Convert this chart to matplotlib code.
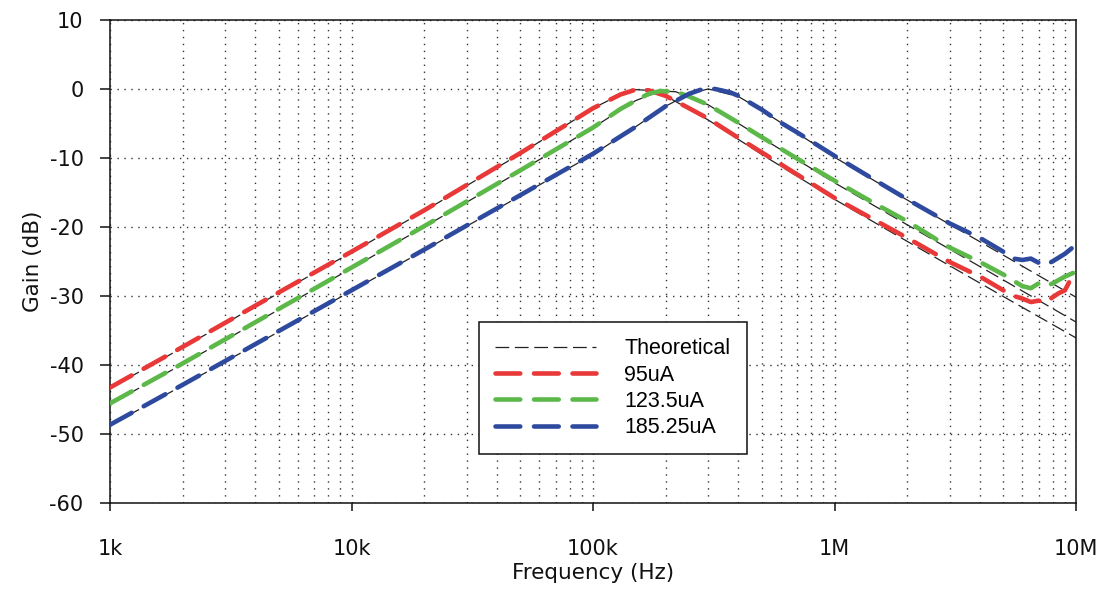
import matplotlib
matplotlib.use("Agg")
import matplotlib.pyplot as plt
from matplotlib.ticker import FixedLocator, NullFormatter

plt.rcParams["axes.unicode_minus"] = False

# ---- data (frequency in Hz, gain in dB) ----
theory_freq_95 = [1e3, 2e3, 5e3, 1e4, 2e4, 5e4, 1e5, 1.3e5, 1.5e5, 1.7e5, 2e5,
                  3e5, 5e5, 1e6, 2e6, 5e6, 1e7]
theory_95 = [-43.4, -37.5, -29.6, -23.7, -17.7, -9.4, -2.8, -0.8, -0.1, -0.2,
             -1.0, -4.5, -9.5, -16.0, -22.1, -30.1, -36.1]
theory_freq_123 = [1e3, 2e3, 5e3, 1e4, 2e4, 5e4, 1e5, 1.5e5, 1.9e5, 2.2e5, 3e5,
                   5e5, 1e6, 2e6, 5e6, 1e7]
theory_123 = [-45.7, -39.9, -32.0, -26.0, -20.0, -11.9, -5.6, -1.7, -0.3, -0.4,
              -2.3, -7.1, -13.6, -19.7, -27.7, -33.8]
theory_freq_185 = [1e3, 2e3, 5e3, 1e4, 2e4, 5e4, 1e5, 1.5e5, 2e5, 2.5e5, 3e5,
                   4e5, 5e5, 1e6, 2e6, 5e6, 1e7]
theory_185 = [-48.8, -43.0, -35.2, -29.3, -23.4, -15.5, -9.5, -5.5, -2.5, -0.7,
              0.0, -1.1, -3.1, -9.9, -16.1, -24.1, -30.2]

freq_95 = [1e3, 2e3, 5e3, 1e4, 2e4, 5e4, 1e5, 1.3e5, 1.5e5, 1.7e5, 2e5, 2.5e5,
           3e5, 4e5, 5e5, 7e5, 1e6, 1.5e6, 2e6, 3e6, 4e6, 5e6, 5.5e6, 6e6,
           6.5e6, 7e6, 7.5e6, 8e6, 8.5e6, 9e6, 9.5e6, 1e7]
gain_95 = [-43.3, -37.4, -29.5, -23.6, -17.6, -9.3, -2.8, -0.8, -0.1, -0.2,
           -1.0, -2.8, -4.3, -7.1, -9.2, -12.4, -15.8, -19.2, -21.6, -25.1,
           -27.2, -29.2, -30.0, -30.4, -30.9, -30.7, -31.0, -30.2, -29.6,
           -29.2, -27.6, -27.0]

freq_123 = [1e3, 2e3, 5e3, 1e4, 2e4, 5e4, 1e5, 1.3e5, 1.5e5, 1.7e5, 1.9e5,
            2.2e5, 2.5e5, 3e5, 4e5, 5e5, 7e5, 1e6, 1.5e6, 2e6, 3e6, 4e6, 5e6,
            5.5e6, 6e6, 6.5e6, 7e6, 7.5e6, 8e6, 9e6, 1e7]
gain_123 = [-45.6, -39.8, -31.9, -25.9, -19.9, -11.8, -5.6, -2.9, -1.7, -0.7,
            -0.3, -0.4, -1.1, -2.3, -4.9, -7.0, -10.1, -13.3, -16.8, -19.2,
            -23.0, -25.1, -26.9, -27.8, -28.6, -28.9, -28.2, -28.6, -28.2,
            -27.2, -26.5]

freq_185 = [1e3, 2e3, 5e3, 1e4, 2e4, 5e4, 1e5, 1.5e5, 2e5, 2.5e5, 2.8e5,
            3.2e5, 3.7e5, 4e5, 5e5, 6e5, 7e5, 1e6, 1.5e6, 2e6, 3e6, 4e6, 5e6,
            5.5e6, 6e6, 6.5e6, 7e6, 7.5e6, 8e6, 9e6, 1e7]
gain_185 = [-48.7, -42.9, -35.1, -29.2, -23.3, -15.4, -9.4, -5.5, -2.5, -0.7,
            -0.1, 0.0, -0.5, -1.0, -3.0, -4.9, -6.3, -9.7, -13.4, -16.0,
            -19.5, -21.6, -23.6, -24.6, -24.8, -24.6, -25.2, -25.5, -25.0,
            -23.9, -22.6]

x_ticks = [1e3, 1e4, 1e5, 1e6, 1e7]
x_tick_labels = ["1k", "10k", "100k", "1M", "10M"]
y_ticks = [-60, -50, -40, -30, -20, -10, 0, 10]

labels = ["Theoretical", "95uA", "123.5uA", "185.25uA"]
colors = ["#E83838", "#5DB84A", "#2E4A9E"]

# ---- figure ----
fig = plt.figure(figsize=(11.08, 5.90), dpi=100)
ax = fig.add_axes([110 / 1108, 1 - 502.7 / 590, 966 / 1108, 482.7 / 590])

ax.set_xscale("log")
ax.set_xlim(1e3, 1e7)
ax.set_ylim(-60, 10)

# grid: dotted, majors and log minors
minor = [m * 10 ** e for e in range(3, 7) for m in range(2, 10)]
ax.xaxis.set_minor_locator(FixedLocator(minor))
ax.xaxis.set_minor_formatter(NullFormatter())
grid_kw = dict(color="#333333", linewidth=1.0, linestyle=(0, (1, 4)))
ax.grid(True, which="major", axis="both", **grid_kw)
ax.grid(True, which="minor", axis="x", **grid_kw)
ax.set_axisbelow(True)

# theoretical responses
theory = [(theory_freq_95, theory_95), (theory_freq_123, theory_123),
          (theory_freq_185, theory_185)]
for f, g in theory:
    ln, = ax.plot(f, g, color="#222222", linewidth=0.9, zorder=2)
    ln.set_dashes((11, 4.5))

# measured responses
series = [(freq_95, gain_95), (freq_123, gain_123), (freq_185, gain_185)]
handles = []
th_handle, = ax.plot([], [], color="#222222", linewidth=0.9)
th_handle.set_dashes((11, 4.5))
handles.append(th_handle)
for (f, g), c in zip(series, colors):
    ln, = ax.plot(f, g, color=c, linewidth=3.3, zorder=3,
                  dash_capstyle="round", solid_capstyle="round")
    ln.set_dashes((5.4, 3.0))
    handles.append(ln)

ax.set_xticks(x_ticks)
ax.set_xticklabels(x_tick_labels)
ax.set_yticks(y_ticks)

for s in ax.spines.values():
    s.set_color("#111111")
    s.set_linewidth(1.1)

ax.tick_params(axis="x", which="major", direction="out", length=6, width=1.1,
               pad=20, labelsize=15, colors="#111111")
ax.tick_params(axis="x", which="minor", length=0)
ax.tick_params(axis="y", which="major", direction="out", length=7, width=1.1,
               pad=12, labelsize=15, colors="#111111")

ax.set_xlabel("Frequency (Hz)", fontsize=15.5, labelpad=3, color="#111111")
ax.set_ylabel("Gain (dB)", fontsize=15.5, labelpad=5, color="#111111")

leg = ax.legend(handles, labels, loc="upper left",
                bbox_to_anchor=(479 / 1108, 1 - 322 / 590),
                bbox_transform=fig.transFigure, borderaxespad=0,
                prop={"family": "Liberation Sans", "size": 15.5},
                handlelength=4.7, handletextpad=1.3, labelspacing=0.25,
                borderpad=0.75, fancybox=False, framealpha=1,
                edgecolor="#111111")
leg.get_frame().set_linewidth(1.1)

fig.savefig("out.png", dpi=100)
